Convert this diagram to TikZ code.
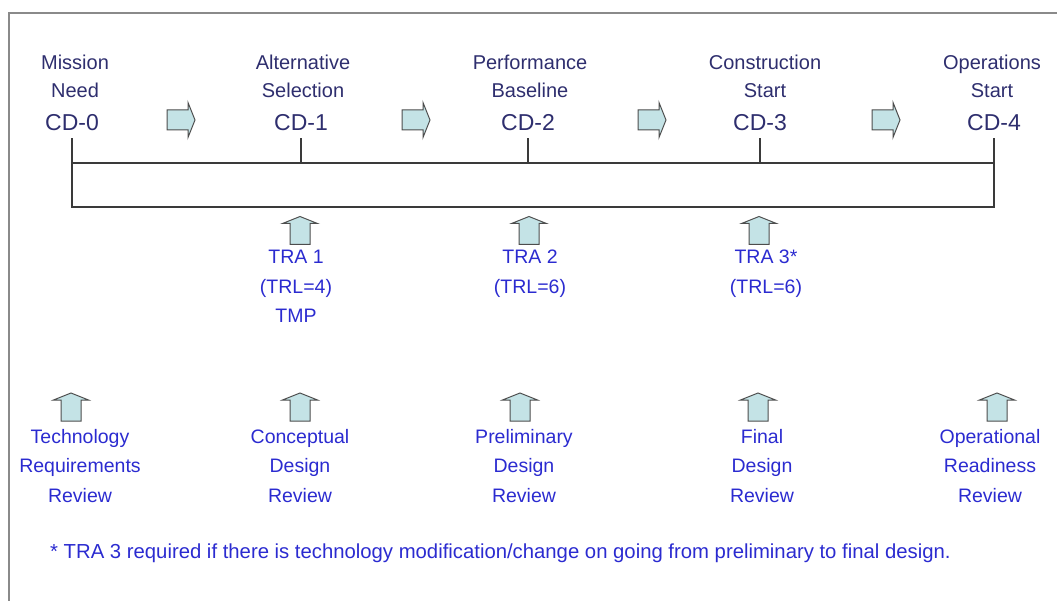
\documentclass[tikz,border=0pt]{standalone}
\usepackage{fontspec}
\setmainfont{Liberation Sans}
\usetikzlibrary{positioning}
\definecolor{tNavy}{HTML}{2E2E6E}
\definecolor{tBlue}{HTML}{2B2BD0}
\definecolor{aFill}{HTML}{C4E3E6}
\definecolor{aEdge}{HTML}{4D4D4D}
\definecolor{lGray}{HTML}{3A3A3A}
\definecolor{fGray}{HTML}{8A8A8A}

\begin{document}
\begin{tikzpicture}[x=1pt, y=-1pt,
    title/.style={font=\fontsize{20}{28}\selectfont, text=tNavy, align=center, inner sep=0pt, anchor=north},
    cdlabel/.style={font=\fontsize{23}{28}\selectfont, text=tNavy, inner xsep=0pt, inner ysep=7pt, text depth=0pt, anchor=base},
    review/.style={font=\fontsize{19.5}{29.5}\selectfont, text=tBlue, align=center, inner sep=0pt, anchor=north},
    bar/.style={draw=lGray, line width=1.2pt},
    blockarrow/.pic={
      \draw[fill=aFill, draw=aEdge, line width=1pt, line join=miter]
        (-14,-10) -- (7,-10) -- (7,-17.5) -- (14,0) -- (7,17.5) -- (7,10) -- (-14,10) -- cycle;
    }]
  \useasboundingbox (0,0) rectangle (1057,601);

  % frame (only top and left edges are visible)
  \draw[draw=fGray, line width=1.5pt] (9,601) -- (9,13) -- (1057,13);

  % milestones
  \node[title] (name0) at (75,55)  {Mission\\Need};
  \node[title] (name1) at (303,55) {Alternative\\Selection};
  \node[title] (name2) at (530,55) {Performance\\Baseline};
  \node[title] (name3) at (765,55) {Construction\\Start};
  \node[title] (name4) at (992,55) {Operations\\Start};

  \node[cdlabel] (cd0) at (72,131)  {CD-0};
  \node[cdlabel] (cd1) at (301,131) {CD-1};
  \node[cdlabel] (cd2) at (528,131) {CD-2};
  \node[cdlabel] (cd3) at (760,131) {CD-3};
  \node[cdlabel] (cd4) at (994,131) {CD-4};

  \foreach \x in {181,416,652,886}
    \pic at (\x,120) {blockarrow};

  % time bar
  \coordinate (barTop) at (0,163);
  \coordinate (barBot) at (0,207);
  \draw[bar] (cd0.south) -- (cd0.south |- barBot) -- (cd4.south |- barBot) -- (cd4.south);
  \draw[bar] (cd0.south |- barTop) -- (cd4.south |- barTop);
  \foreach \i in {1,2,3}
    \draw[bar] (cd\i.south) -- (cd\i.south |- barTop);

  % technology readiness assessments
  \foreach \x in {300,529,759}
    \pic[rotate=90] at (\x,230.5) {blockarrow};
  \node[review] (tra1) at (296,250) {TRA 1\\(TRL=4)\\TMP};
  \node[review] (tra2) at (530,250) {TRA 2\\(TRL=6)};
  \node[review] (tra3) at (766,250) {TRA 3*\\(TRL=6)};

  % design reviews
  \foreach \x in {71,300,520,758,997}
    \pic[rotate=90] at (\x,407) {blockarrow};
  \node[review] (rev0) at (80,429)  {Technology\\Requirements\\Review};
  \node[review] (rev1) at (300,429) {Conceptual\\Design\\Review};
  \node[review] (rev2) at (524,429) {Preliminary\\Design\\Review};
  \node[review] (rev3) at (762,429) {Final\\Design\\Review};
  \node[review] (rev4) at (990,429) {Operational\\Readiness\\Review};

  \node[font=\fontsize{20.3}{24}\selectfont, text=tBlue, anchor=west, inner sep=0pt] (note) at (50,553)
    {* TRA 3 required if there is technology modification/change on going from preliminary to final design.};
\end{tikzpicture}
\end{document}
